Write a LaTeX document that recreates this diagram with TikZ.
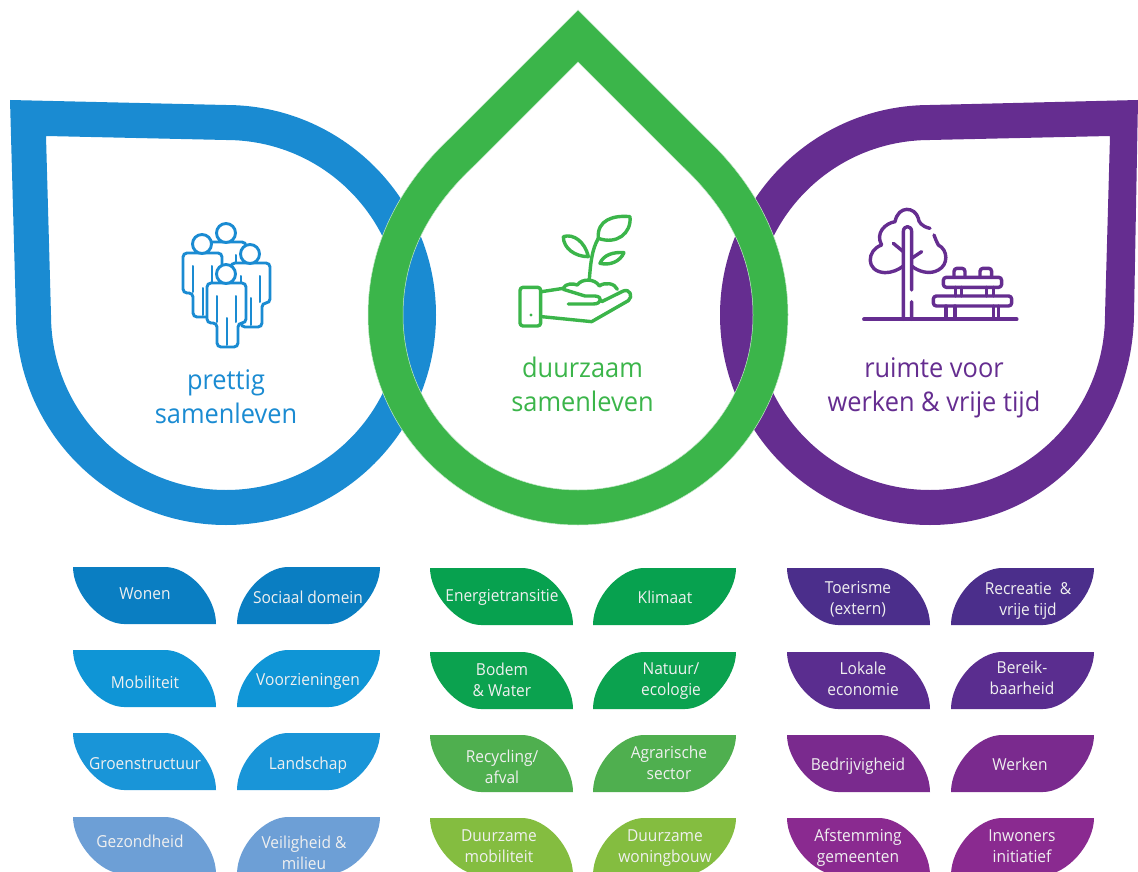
\documentclass[tikz,border=0pt]{standalone}
\usepackage{fontspec}
\setmainfont[FakeStretch=0.94]{Open Sans}
\definecolor{blueA}{HTML}{1A8BD2}
\definecolor{greenA}{HTML}{3BB54A}
\definecolor{purpleA}{HTML}{652D90}
\definecolor{bl1}{HTML}{0A7EC2}\definecolor{bl2}{HTML}{0F95D6}\definecolor{bl3}{HTML}{1995D8}\definecolor{bl4}{HTML}{6D9FD6}
\definecolor{gr1}{HTML}{07A14F}\definecolor{gr2}{HTML}{0BA24F}\definecolor{gr3}{HTML}{4FAF4F}\definecolor{gr4}{HTML}{84BD40}
\definecolor{pu1}{HTML}{4B2E8B}\definecolor{pu2}{HTML}{5A2D8F}\definecolor{pu3}{HTML}{7A2A8E}\definecolor{pu4}{HTML}{8A2A90}
\tikzset{
 leaflabel/.style={text=white!94!black,align=center,font=\fontsize{16.5}{21}\selectfont,inner sep=0pt},
 biglabel/.style={align=center,font=\fontsize{27}{34}\selectfont,inner sep=0pt},
 iconline/.style={line width=3.4pt,line cap=round,line join=round},
}
\newcommand{\leafL}[3]{%
 \fill[#3] (#1,#2) -- ++(92,0) .. controls +(24,0) and +(0,-28) .. ++(51,57) -- ++(-92,0) .. controls +(-24,0) and +(0,26) .. ++(-51,-57) -- cycle;}
\newcommand{\leafR}[3]{%
 \fill[#3] (#1+143,#2) -- ++(-92,0) .. controls +(-24,0) and +(0,-28) .. ++(-51,57) -- ++(92,0) .. controls +(24,0) and +(0,26) .. ++(51,-57) -- cycle;}
\newcommand{\personicon}[2]{%
 \begin{scope}[shift={(#1,#2)},line width=2.9pt,draw=blueA,line cap=round]
 \draw[fill=white,rounded corners=4pt] (207,283) -- (246,283) -- (246,323) -- (238,323) -- (238,347) -- (217,347) -- (217,323) -- (207,323) -- cycle;
 \draw[line width=2pt] (217,296) -- (217,322) (236,296) -- (236,322) (227,318) -- (227,345);
 \draw[fill=white] (226,274) circle[radius=9.5];
 \end{scope}}
\begin{document}
\begin{tikzpicture}[x=1pt,y=-1pt]
\useasboundingbox (0,0) rectangle (1138,872);
\fill[white] (0,0) rectangle (1138,872);
% blue drop
\fill[blueA,even odd rule]
 (10,100) -- (226,105)
 .. controls (342,105) and (436,199) .. (436,315)
 .. controls (436,431) and (342,525) .. (226,525)
 .. controls (110,525) and (16,431) .. (16,315) -- cycle
 (46,136) -- (226,140)
 .. controls (323,140) and (401,218) .. (401,315)
 .. controls (401,412) and (323,490) .. (226,490)
 .. controls (129,490) and (51,412) .. (51,315) -- cycle;
% purple drop
\fill[purpleA,even odd rule]
 (1138,100) -- (930,105)
 .. controls (814,105) and (720,199) .. (720,315)
 .. controls (720,431) and (814,525) .. (930,525)
 .. controls (1046,525) and (1132,431) .. (1134,315) -- cycle
 (1110,136) -- (930,140)
 .. controls (833,140) and (755,218) .. (755,315)
 .. controls (755,412) and (833,490) .. (930,490)
 .. controls (1027,490) and (1105,412) .. (1105,315) -- cycle;
% green drop
\fill[greenA,even odd rule,draw=white!70!greenA,line width=.5pt]
 (578,10) -- (450,138)
 .. controls (400,185) and (368,245) .. (368,315)
 .. controls (368,431) and (462,525) .. (578,525)
 .. controls (694,525) and (788,431) .. (788,315)
 .. controls (788,245) and (756,185) .. (706,138) -- cycle
 (578,62) -- (475,165)
 .. controls (430,207) and (403,255) .. (403,315)
 .. controls (403,412) and (481,490) .. (578,490)
 .. controls (675,490) and (753,412) .. (753,315)
 .. controls (753,255) and (726,207) .. (681,165) -- cycle;
% headings
\node[biglabel,text=blueA] (prettig) at (226,396.5) {prettig\\samenleven};
\node[biglabel,text=greenA] (duurzaam) at (582.5,384) {duurzaam\\samenleven};
\node[biglabel,text=purpleA] (ruimte) at (934,387.5) {ruimte voor\\werken \& vrije tijd};
% people icon
\personicon{0}{-41}
\personicon{-24}{-30}
\personicon{24}{-20}
\personicon{0}{0}
% hand and plant icon
\begin{scope}[shift={(500,200)},x=.3333pt,y=-.3333pt,draw=greenA]
 \draw[iconline,rounded corners=3pt] (60,262) rectangle (122,378);
 \fill[greenA] (93,345) circle[radius=5];
 \draw[iconline] (125,275) -- (190,265)
   (205,312) -- (280,312) .. controls (305,312) and (310,290) .. (285,288) -- (255,288) -- (190,268)
   (125,350) -- (275,365) -- (385,302) .. controls (400,290) and (390,265) .. (370,273) -- (305,305);
 \draw[iconline] (190,265) .. controls (195,250) and (220,250) .. (232,255) .. controls (245,235) and (285,235) .. (298,258) .. controls (315,245) and (345,250) .. (352,268);
 \draw[iconline] (268,238) .. controls (272,190) and (275,150) .. (295,115);
 \draw[iconline] (295,115) .. controls (290,60) and (340,45) .. (390,50) .. controls (395,100) and (350,135) .. (295,115) -- cycle;
 \draw[iconline] (190,110) .. controls (220,100) and (255,125) .. (265,170) .. controls (225,170) and (190,145) .. (190,110) -- cycle;
 \draw[iconline] (300,190) .. controls (310,165) and (340,155) .. (372,158) .. controls (360,185) and (330,197) .. (300,190) -- cycle;
\end{scope}
% tree and bench icon
\begin{scope}[shift={(850,190)},x=.3333pt,y=-.3333pt,draw=purpleA]
 \draw[iconline,line width=3.8pt] (42,388) -- (500,388);
 \draw[iconline] (160,388) -- (160,125) .. controls (160,105) and (185,105) .. (185,125) -- (185,300) (185,335) -- (185,388);
 \draw[iconline] (240,115) .. controls (215,110) and (205,95) .. (205,85) .. controls (195,50) and (145,45) .. (135,95) .. controls (105,100) and (75,130) .. (95,165) .. controls (50,180) and (45,245) .. (105,248) .. controls (125,248) and (145,240) .. (160,228);
 \draw[iconline] (185,228) .. controls (205,245) and (240,255) .. (265,240) .. controls (295,225) and (295,180) .. (265,165) .. controls (260,155) and (255,145) .. (252,135);
 \draw[iconline] (130,160) -- (160,185) (215,185) -- (185,205);
 \draw[iconline,rounded corners=3pt] (280,262) rectangle (455,292);
 \draw[iconline,rounded corners=3pt] (312,262) -- (312,235) -- (345,235) -- (345,262) (390,262) -- (390,235) -- (425,235) -- (425,262);
 \draw[iconline] (317,292) -- (317,318) (335,292) -- (335,318) (410,292) -- (410,318) (430,292) -- (430,318);
 \draw[iconline,rounded corners=3pt] (250,318) rectangle (485,348);
 \draw[iconline] (288,348) -- (288,386) (315,348) -- (315,386) (430,348) -- (430,386) (445,348) -- (445,386);
\end{scope}
% leaves
\leafL{73}{567}{bl1}\leafR{237}{567}{bl1}
\leafL{73}{650}{bl2}\leafR{237}{650}{bl2}
\leafL{73}{733}{bl3}\leafR{237}{733}{bl3}
\leafL{73}{817}{bl4}\leafR{237}{817}{bl4}
\leafL{430}{568}{gr1}\leafR{593}{568}{gr1}
\leafL{430}{652}{gr2}\leafR{593}{652}{gr2}
\leafL{430}{735}{gr3}\leafR{593}{735}{gr3}
\leafL{430}{818}{gr4}\leafR{593}{818}{gr4}
\leafL{787}{568}{pu1}\leafR{951}{568}{pu1}
\leafL{787}{652}{pu2}\leafR{951}{652}{pu2}
\leafL{787}{735}{pu3}\leafR{951}{735}{pu3}
\leafL{787}{818}{pu4}\leafR{951}{818}{pu4}
% leaf labels
\node[leaflabel] (wonen) at (145,594) {Wonen};
\node[leaflabel] (sociaal) at (308,597) {Sociaal domein};
\node[leaflabel] (mobi) at (145,682) {Mobiliteit};
\node[leaflabel] (voorz) at (308,681) {Voorzieningen};
\node[leaflabel] (groen) at (145,764) {Groenstructuur};
\node[leaflabel] (land) at (308,765) {Landschap};
\node[leaflabel] (gezond) at (140,841) {Gezondheid};
\node[leaflabel] (veilig) at (304,853) {Veiligheid \&\\milieu};
\node[leaflabel] (energie) at (502,597) {Energietransitie};
\node[leaflabel] (klimaat) at (665,597) {Klimaat};
\node[leaflabel] (bodem) at (502,679.5) {Bodem\\\& Water};
\node[leaflabel] (natuur) at (671,681) {Natuur/\\ecologie};
\node[leaflabel] (recycling) at (502,766.5) {Recycling/\\afval};
\node[leaflabel] (agrar) at (669,763) {Agrarische\\sector};
\node[leaflabel] (dmob) at (499,846) {Duurzame\\mobiliteit};
\node[leaflabel] (dwon) at (665,848) {Duurzame\\woningbouw};
\node[leaflabel] (toer) at (858,599) {Toerisme\\(extern)};
\node[leaflabel] (recr) at (1028,601) {Recreatie \ \&\\vrije tijd};
\node[leaflabel] (lokaal) at (863,679) {Lokale\\economie};
\node[leaflabel] (bereik) at (1022,678) {Bereik-\\baarheid};
\node[leaflabel] (bedrijf) at (858,766) {Bedrijvigheid};
\node[leaflabel] (werken) at (1020,764) {Werken};
\node[leaflabel] (afst) at (858,848) {Afstemming\\gemeenten};
\node[leaflabel] (inw) at (1022,846) {Inwoners\\initiatief};
\end{tikzpicture}
\end{document}
